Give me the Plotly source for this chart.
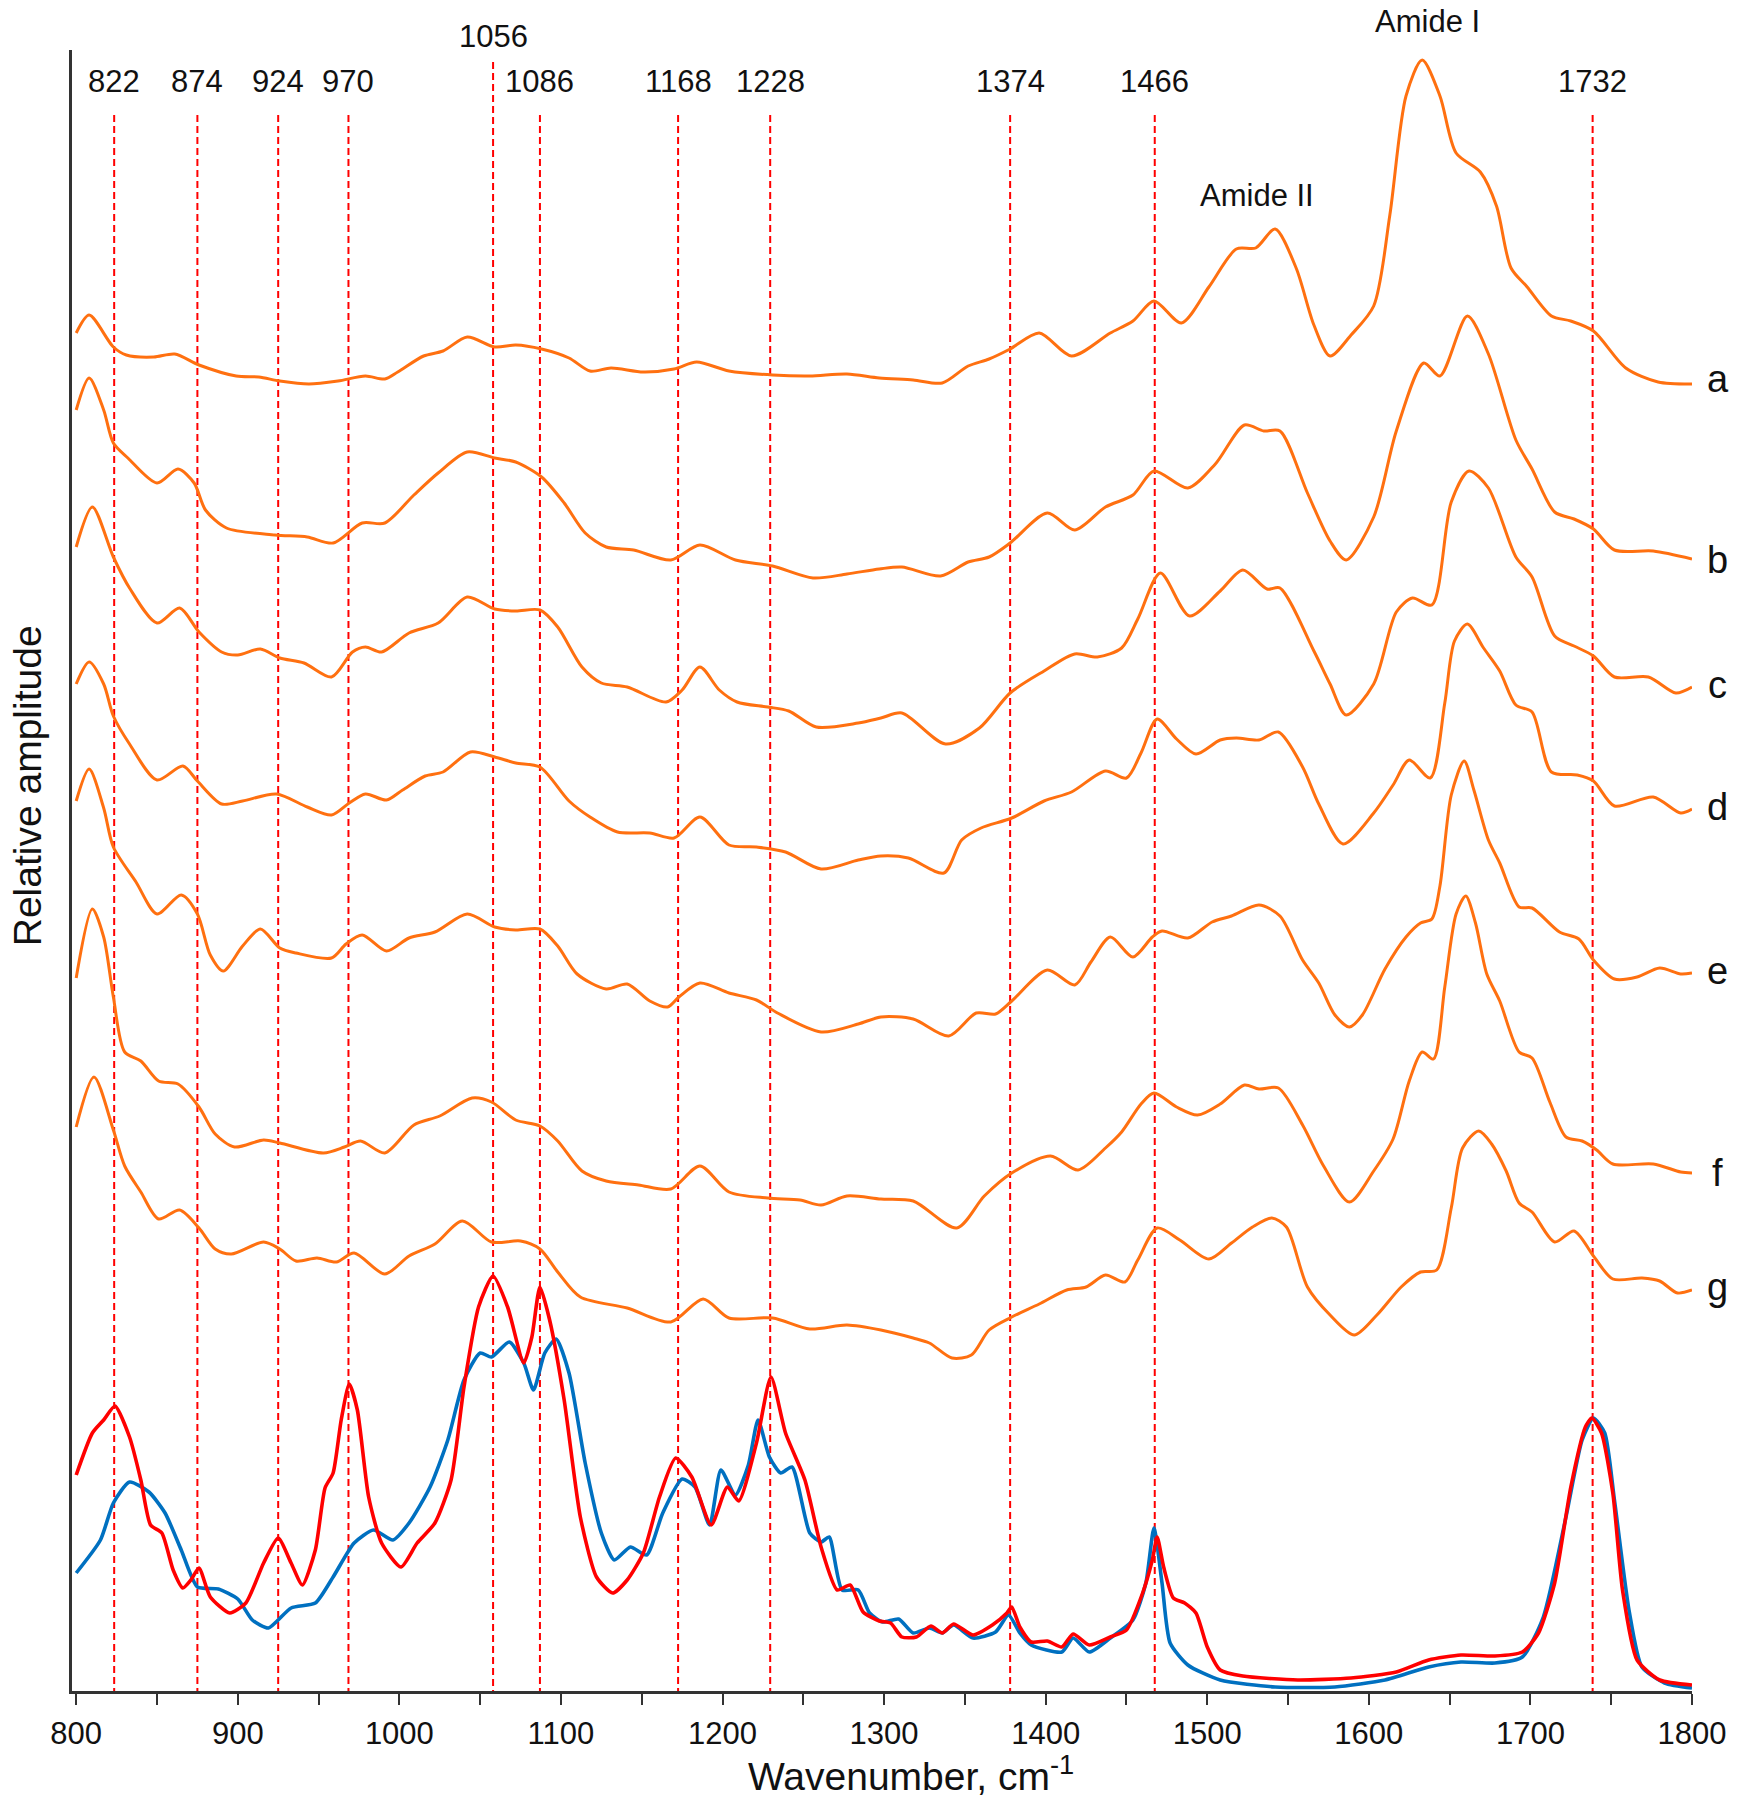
import plotly.graph_objects as go

# ---------------- data ----------------
wn_a = [800, 808, 823, 831, 848, 861, 876, 899, 913, 926, 944, 962, 979, 991, 999, 1015, 1027, 1042, 1059, 1072, 1088, 1105, 1118, 1131, 1151, 1170, 1184, 1204, 1231, 1254, 1277, 1297, 1318, 1336, 1352, 1365, 1378, 1396, 1416, 1440, 1454, 1467, 1484, 1501, 1518, 1530, 1542, 1555, 1566, 1576, 1589, 1603, 1613, 1623, 1633, 1644, 1654, 1669, 1679, 1688, 1698, 1713, 1725, 1739, 1759, 1779, 1800]
amp_a = [13.58, 13.76, 13.44, 13.36, 13.34, 13.37, 13.26, 13.15, 13.14, 13.10, 13.07, 13.10, 13.15, 13.12, 13.19, 13.35, 13.40, 13.54, 13.44, 13.46, 13.42, 13.33, 13.20, 13.23, 13.19, 13.22, 13.29, 13.20, 13.16, 13.15, 13.17, 13.13, 13.11, 13.08, 13.25, 13.32, 13.42, 13.58, 13.35, 13.58, 13.70, 13.90, 13.68, 14.04, 14.42, 14.43, 14.62, 14.23, 13.66, 13.35, 13.56, 13.85, 14.76, 15.95, 16.31, 15.95, 15.38, 15.19, 14.85, 14.23, 14.04, 13.75, 13.70, 13.60, 13.23, 13.09, 13.07]

wn_b = [800, 808, 817, 823, 832, 850, 863, 873, 880, 893, 923, 943, 959, 977, 991, 1009, 1024, 1042, 1059, 1072, 1088, 1102, 1115, 1128, 1145, 1168, 1186, 1208, 1231, 1256, 1277, 1297, 1311, 1335, 1352, 1365, 1378, 1401, 1418, 1437, 1454, 1467, 1488, 1505, 1523, 1535, 1545, 1562, 1576, 1586, 1603, 1617, 1634, 1644, 1661, 1674, 1691, 1701, 1715, 1727, 1739, 1752, 1776, 1800]
amp_b = [12.81, 13.13, 12.81, 12.48, 12.33, 12.08, 12.22, 12.08, 11.81, 11.63, 11.56, 11.54, 11.48, 11.68, 11.68, 11.96, 12.18, 12.39, 12.33, 12.29, 12.14, 11.88, 11.58, 11.44, 11.41, 11.31, 11.46, 11.31, 11.25, 11.13, 11.17, 11.22, 11.24, 11.15, 11.29, 11.34, 11.48, 11.78, 11.61, 11.84, 11.96, 12.20, 12.03, 12.27, 12.66, 12.60, 12.60, 11.98, 11.50, 11.31, 11.74, 12.60, 13.28, 13.15, 13.75, 13.37, 12.51, 12.22, 11.79, 11.72, 11.62, 11.41, 11.40, 11.32]

wn_c = [800, 810, 823, 833, 850, 864, 876, 890, 900, 914, 926, 941, 958, 971, 979, 989, 1006, 1024, 1042, 1059, 1072, 1087, 1098, 1113, 1125, 1141, 1165, 1175, 1186, 1198, 1209, 1228, 1241, 1258, 1284, 1298, 1311, 1338, 1359, 1378, 1399, 1418, 1432, 1447, 1457, 1471, 1489, 1508, 1522, 1537, 1545, 1566, 1576, 1586, 1603, 1617, 1627, 1639, 1651, 1662, 1674, 1691, 1701, 1715, 1727, 1739, 1752, 1773, 1790, 1800]
amp_c = [11.44, 11.84, 11.34, 11.03, 10.68, 10.83, 10.59, 10.39, 10.36, 10.42, 10.33, 10.28, 10.14, 10.39, 10.44, 10.39, 10.58, 10.68, 10.94, 10.82, 10.80, 10.81, 10.64, 10.24, 10.08, 10.04, 9.89, 10.01, 10.24, 10.01, 9.89, 9.84, 9.80, 9.64, 9.68, 9.73, 9.78, 9.47, 9.63, 9.98, 10.20, 10.37, 10.34, 10.43, 10.72, 11.18, 10.75, 11.00, 11.21, 11.02, 11.03, 10.40, 10.07, 9.76, 10.07, 10.79, 10.93, 10.86, 11.89, 12.20, 12.03, 11.34, 11.14, 10.55, 10.45, 10.35, 10.14, 10.14, 9.98, 10.04]

wn_d = [800, 808, 817, 823, 833, 850, 866, 875, 890, 903, 924, 943, 958, 969, 979, 992, 1002, 1016, 1027, 1044, 1059, 1072, 1087, 1105, 1118, 1135, 1155, 1170, 1186, 1204, 1221, 1239, 1261, 1284, 1298, 1315, 1337, 1348, 1360, 1379, 1399, 1416, 1437, 1450, 1459, 1469, 1481, 1493, 1508, 1518, 1532, 1544, 1559, 1569, 1584, 1603, 1615, 1625, 1638, 1647, 1653, 1661, 1671, 1681, 1691, 1701, 1713, 1729, 1739, 1752, 1776, 1793, 1800]
amp_d = [10.07, 10.29, 10.07, 9.75, 9.47, 9.11, 9.25, 9.10, 8.87, 8.90, 8.97, 8.84, 8.76, 8.88, 8.97, 8.91, 9.01, 9.15, 9.19, 9.39, 9.34, 9.28, 9.24, 8.90, 8.74, 8.59, 8.58, 8.53, 8.74, 8.46, 8.44, 8.39, 8.22, 8.31, 8.35, 8.33, 8.18, 8.51, 8.63, 8.73, 8.90, 8.99, 9.20, 9.13, 9.38, 9.72, 9.52, 9.37, 9.51, 9.53, 9.51, 9.59, 9.24, 8.87, 8.47, 8.78, 9.06, 9.31, 9.13, 9.88, 10.50, 10.67, 10.43, 10.20, 9.86, 9.79, 9.19, 9.16, 9.10, 8.85, 8.94, 8.78, 8.82]

wn_e = [800, 808, 817, 823, 837, 850, 865, 875, 883, 891, 903, 914, 926, 936, 958, 967, 977, 992, 1006, 1022, 1042, 1059, 1072, 1087, 1098, 1110, 1128, 1141, 1155, 1166, 1173, 1186, 1204, 1221, 1234, 1261, 1284, 1298, 1318, 1340, 1357, 1369, 1379, 1401, 1418, 1428, 1440, 1454, 1466, 1472, 1488, 1503, 1515, 1532, 1545, 1559, 1569, 1579, 1588, 1596, 1610, 1623, 1632, 1639, 1644, 1651, 1659, 1665, 1674, 1681, 1693, 1701, 1718, 1730, 1739, 1752, 1766, 1780, 1793, 1800]
amp_e = [8.90, 9.22, 8.83, 8.44, 8.09, 7.77, 7.96, 7.77, 7.36, 7.20, 7.45, 7.62, 7.43, 7.38, 7.33, 7.47, 7.56, 7.40, 7.53, 7.59, 7.77, 7.64, 7.61, 7.62, 7.45, 7.17, 7.02, 7.07, 6.90, 6.84, 6.94, 7.08, 6.98, 6.91, 6.78, 6.59, 6.67, 6.74, 6.72, 6.55, 6.78, 6.77, 6.90, 7.21, 7.06, 7.29, 7.54, 7.34, 7.54, 7.60, 7.53, 7.69, 7.75, 7.86, 7.75, 7.31, 7.08, 6.76, 6.64, 6.76, 7.22, 7.54, 7.68, 7.72, 8.05, 8.96, 9.30, 9.01, 8.51, 8.28, 7.84, 7.83, 7.59, 7.52, 7.31, 7.12, 7.14, 7.23, 7.17, 7.18]

wn_f = [800, 810, 817, 823, 830, 840, 851, 863, 876, 886, 898, 916, 926, 953, 966, 976, 991, 1009, 1025, 1045, 1057, 1072, 1087, 1098, 1113, 1128, 1148, 1168, 1186, 1204, 1228, 1248, 1261, 1277, 1298, 1318, 1345, 1362, 1379, 1403, 1420, 1437, 1447, 1459, 1467, 1481, 1494, 1508, 1523, 1532, 1544, 1559, 1572, 1588, 1603, 1615, 1625, 1633, 1640, 1647, 1654, 1660, 1666, 1673, 1681, 1693, 1701, 1712, 1722, 1732, 1741, 1751, 1776, 1793, 1800]
amp_f = [7.13, 7.82, 7.54, 6.94, 6.39, 6.30, 6.10, 6.07, 5.84, 5.57, 5.44, 5.51, 5.48, 5.38, 5.44, 5.50, 5.38, 5.66, 5.75, 5.93, 5.89, 5.71, 5.65, 5.50, 5.20, 5.10, 5.06, 5.02, 5.25, 4.99, 4.93, 4.91, 4.86, 4.95, 4.92, 4.90, 4.63, 4.95, 5.18, 5.35, 5.21, 5.43, 5.59, 5.87, 5.98, 5.84, 5.76, 5.87, 6.06, 6.02, 6.03, 5.66, 5.25, 4.89, 5.20, 5.52, 6.10, 6.39, 6.32, 7.04, 7.77, 7.95, 7.68, 7.17, 6.90, 6.39, 6.33, 5.89, 5.54, 5.50, 5.41, 5.27, 5.27, 5.19, 5.18]

wn_g = [800, 811, 823, 830, 840, 851, 864, 876, 886, 896, 916, 926, 936, 949, 961, 972, 991, 1006, 1022, 1039, 1057, 1075, 1087, 1098, 1112, 1141, 1168, 1188, 1204, 1231, 1254, 1277, 1298, 1318, 1328, 1342, 1354, 1365, 1379, 1396, 1413, 1425, 1437, 1449, 1457, 1469, 1483, 1501, 1515, 1528, 1540, 1549, 1562, 1576, 1591, 1605, 1620, 1632, 1642, 1651, 1658, 1668, 1676, 1685, 1693, 1701, 1715, 1727, 1739, 1751, 1769, 1780, 1791, 1800]
amp_g = [5.64, 6.14, 5.61, 5.25, 4.99, 4.72, 4.81, 4.63, 4.42, 4.37, 4.49, 4.42, 4.30, 4.33, 4.29, 4.38, 4.17, 4.35, 4.47, 4.70, 4.49, 4.50, 4.42, 4.19, 3.94, 3.83, 3.69, 3.92, 3.73, 3.73, 3.62, 3.66, 3.61, 3.53, 3.48, 3.33, 3.36, 3.61, 3.74, 3.87, 4.01, 4.04, 4.16, 4.09, 4.31, 4.63, 4.51, 4.32, 4.48, 4.64, 4.73, 4.64, 4.04, 3.76, 3.56, 3.76, 4.04, 4.19, 4.21, 4.83, 5.43, 5.60, 5.47, 5.20, 4.88, 4.79, 4.49, 4.60, 4.35, 4.12, 4.13, 4.10, 3.98, 4.01]

wn_red = [800, 810, 817, 824, 833, 840, 846, 853, 860, 866, 871, 876, 883, 895, 905, 916, 925, 933, 940, 948, 954, 959, 964, 969, 974, 981, 989, 1001, 1011, 1022, 1032, 1040, 1049, 1058, 1067, 1077, 1082, 1087, 1093, 1102, 1112, 1122, 1132, 1141, 1151, 1161, 1171, 1181, 1193, 1203, 1210, 1221, 1230, 1239, 1251, 1261, 1271, 1279, 1287, 1297, 1304, 1311, 1320, 1329, 1336, 1343, 1355, 1367, 1376, 1379, 1384, 1391, 1401, 1410, 1417, 1427, 1440, 1450, 1460, 1466, 1469, 1473, 1479, 1486, 1493, 1500, 1508, 1522, 1556, 1589, 1617, 1637, 1657, 1678, 1695, 1705, 1715, 1725, 1734, 1738, 1744, 1751, 1757, 1766, 1780, 1800]
amp_red = [2.16, 2.58, 2.71, 2.85, 2.54, 2.11, 1.66, 1.58, 1.21, 1.03, 1.11, 1.23, 0.94, 0.78, 0.88, 1.28, 1.53, 1.28, 1.06, 1.41, 2.03, 2.18, 2.71, 3.07, 2.81, 1.94, 1.48, 1.24, 1.48, 1.68, 2.11, 3.04, 3.84, 4.15, 3.84, 3.28, 3.54, 4.04, 3.71, 2.91, 1.74, 1.14, 0.98, 1.11, 1.38, 1.94, 2.33, 2.14, 1.66, 2.04, 1.90, 2.48, 3.14, 2.58, 2.11, 1.44, 1.01, 1.06, 0.79, 0.70, 0.68, 0.54, 0.54, 0.65, 0.58, 0.67, 0.56, 0.66, 0.78, 0.84, 0.64, 0.49, 0.50, 0.44, 0.57, 0.46, 0.54, 0.61, 0.98, 1.31, 1.54, 1.24, 0.93, 0.88, 0.78, 0.44, 0.21, 0.15, 0.11, 0.13, 0.19, 0.31, 0.36, 0.35, 0.39, 0.58, 1.08, 2.04, 2.64, 2.73, 2.58, 1.98, 1.01, 0.31, 0.11, 0.06]

wn_blue = [800, 815, 823, 833, 845, 855, 865, 875, 888, 900, 909, 919, 933, 948, 959, 972, 984, 996, 1006, 1019, 1030, 1040, 1050, 1057, 1068, 1077, 1083, 1090, 1097, 1105, 1115, 1125, 1133, 1143, 1153, 1163, 1175, 1183, 1192, 1199, 1208, 1216, 1222, 1229, 1236, 1243, 1254, 1261, 1266, 1274, 1284, 1291, 1299, 1309, 1318, 1328, 1336, 1343, 1355, 1369, 1377, 1384, 1391, 1410, 1417, 1427, 1440, 1454, 1462, 1467, 1472, 1477, 1488, 1508, 1542, 1579, 1610, 1637, 1657, 1678, 1695, 1708, 1722, 1732, 1739, 1746, 1752, 1761, 1769, 1783, 1800]
amp_blue = [1.18, 1.51, 1.88, 2.09, 1.99, 1.78, 1.41, 1.04, 1.02, 0.92, 0.71, 0.63, 0.83, 0.88, 1.14, 1.48, 1.61, 1.51, 1.68, 2.04, 2.51, 3.11, 3.38, 3.34, 3.49, 3.28, 3.01, 3.38, 3.52, 3.18, 2.28, 1.58, 1.31, 1.44, 1.36, 1.78, 2.12, 2.04, 1.66, 2.21, 1.96, 2.26, 2.71, 2.34, 2.18, 2.24, 1.58, 1.49, 1.54, 1.01, 1.01, 0.78, 0.69, 0.72, 0.58, 0.63, 0.58, 0.66, 0.53, 0.59, 0.76, 0.58, 0.46, 0.39, 0.53, 0.39, 0.53, 0.71, 1.08, 1.63, 1.08, 0.48, 0.26, 0.11, 0.04, 0.04, 0.11, 0.24, 0.29, 0.28, 0.34, 0.74, 1.74, 2.51, 2.73, 2.58, 1.91, 0.81, 0.24, 0.08, 0.03]

curve_letters = ["a", "b", "c", "d", "e", "f", "g"]
letter_levels = [13.12, 11.31, 10.06, 8.84, 7.20, 5.18, 4.04]

band_positions = [823.5, 875, 925, 968.5, 1058, 1087, 1172.5, 1229.5, 1378, 1467.5, 1738.5]
band_labels = ["822", "874", "924", "970", "1056", "1086", "1168", "1228", "1374", "1466", "1732"]
band_tops = [15.76, 15.76, 15.76, 15.76, 16.29, 15.76, 15.76, 15.76, 15.76, 15.76, 15.76]
band_label_levels = [0.9805, 0.9805, 0.9805, 0.9805, 1.0085, 0.9805, 0.9805, 0.9805, 0.9805, 0.9805, 0.9805]

amide_labels = ["Amide I", "Amide II"]
amide_positions = [1636.5, 1531]
amide_levels = [1.0175, 0.9116]

x_ticks = [800, 900, 1000, 1100, 1200, 1300, 1400, 1500, 1600, 1700, 1800]

# ---------------- styling ----------------
ORANGE = "#FF7010"
RED = "#FF0000"
BLUE = "#0070C0"
FONT = "Arial, Liberation Sans, sans-serif"

fig = go.Figure()

# dashed band markers
for pos, top in zip(band_positions, band_tops):
    fig.add_trace(go.Scatter(x=[pos, pos], y=[top, 0], mode="lines",
                             line=dict(color=RED, width=2, dash="7px,4px"),
                             hoverinfo="skip", showlegend=False))

orange_series = [(wn_a, amp_a), (wn_b, amp_b), (wn_c, amp_c), (wn_d, amp_d),
                 (wn_e, amp_e), (wn_f, amp_f), (wn_g, amp_g)]
for (wx, wy), name in zip(orange_series, curve_letters):
    fig.add_trace(go.Scatter(x=wx, y=wy, mode="lines", name=name,
                             line=dict(color=ORANGE, width=3, shape="spline", smoothing=0.8),
                             showlegend=False))

fig.add_trace(go.Scatter(x=wn_blue, y=amp_blue, mode="lines", name="blue",
                         line=dict(color=BLUE, width=3.6, shape="spline", smoothing=0.6),
                         showlegend=False))
fig.add_trace(go.Scatter(x=wn_red, y=amp_red, mode="lines", name="red",
                         line=dict(color=RED, width=3.6, shape="spline", smoothing=0.6),
                         showlegend=False))

annotations = []
for pos, txt, lvl in zip(band_positions, band_labels, band_label_levels):
    annotations.append(dict(x=pos, y=lvl, xref="x", yref="paper", text=txt, showarrow=False,
                            font=dict(family=FONT, size=31, color="#111"),
                            xanchor="center", yanchor="middle"))
for txt, pos, lvl in zip(amide_labels, amide_positions, amide_levels):
    annotations.append(dict(x=pos, y=lvl, xref="x", yref="paper", text=txt, showarrow=False,
                            font=dict(family=FONT, size=31, color="#111"),
                            xanchor="center", yanchor="middle"))
for txt, lvl in zip(curve_letters, letter_levels):
    annotations.append(dict(x=1.016, y=lvl, xref="paper", yref="y", text=txt, showarrow=False,
                            font=dict(family=FONT, size=38, color="#111"),
                            xanchor="center", yanchor="middle"))
annotations.append(dict(x=-0.027, y=0.5515, xref="paper", yref="paper", text="Relative amplitude",
                        textangle=-90, showarrow=False,
                        font=dict(family=FONT, size=39, color="#111"),
                        xanchor="center", yanchor="middle"))
annotations.append(dict(x=0.518, y=-0.0505, xref="paper", yref="paper",
                        text="Wavenumber, cm<sup>-1</sup>", showarrow=False,
                        font=dict(family=FONT, size=39, color="#111"),
                        xanchor="center", yanchor="middle"))

fig.update_layout(
    width=1740, height=1800,
    margin=dict(l=64, r=56, t=42, b=117, autoexpand=False),
    paper_bgcolor="white", plot_bgcolor="white",
    showlegend=False,
    annotations=annotations,
    xaxis=dict(range=[797.4, 1800], showgrid=False, zeroline=False,
               showline=True, linecolor="#333", linewidth=2.5,
               ticks="outside", ticklen=11, tickwidth=2, tickcolor="#333",
               tickvals=x_ticks, ticklabelstandoff=2,
               minor=dict(ticks="outside", ticklen=11, tickwidth=2, tickcolor="#333", dtick=50, tick0=800, showgrid=False),
               tickfont=dict(family=FONT, size=31, color="#111")),
    yaxis=dict(range=[0, 16.41], showgrid=False, zeroline=False,
               showline=True, linecolor="#333", linewidth=2.5,
               showticklabels=False, ticks=""),
)

fig.write_html("out.html")
